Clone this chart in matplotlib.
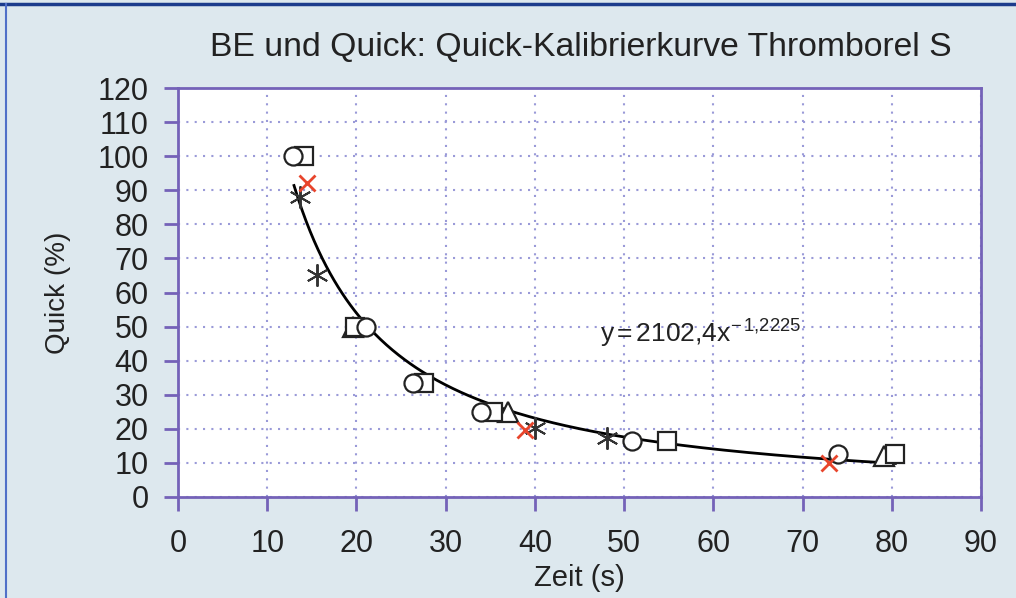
import matplotlib.pyplot as plt
from matplotlib.lines import Line2D
import numpy as np

plt.rcParams['font.family'] = ['Liberation Sans', 'DejaVu Sans']
plt.rcParams['mathtext.fontset'] = 'custom'
plt.rcParams['mathtext.rm'] = 'Liberation Sans'
plt.rcParams['mathtext.it'] = 'Liberation Sans'

# measured points per series (Zeit in s, Quick in %)
circle_x = [12.9, 21.1, 26.3, 34.0, 50.9, 74.0]
circle_y = [100, 50, 33.5, 25, 16.5, 12.5]
square_x = [14.1, 19.8, 27.6, 35.3, 54.8, 80.4]
square_y = [100, 50, 33.5, 25, 16.5, 12.5]
triangle_x = [19.6, 37.0, 79.1]
triangle_y = [50, 25, 12]
cross_x = [14.5, 38.9, 73.0]
cross_y = [92, 19.7, 10]
star_x = [13.7, 15.6, 40.0, 48.1]
star_y = [88, 65, 20.2, 17.3]

# power fit shown in the chart
fit_a = 2102.4
fit_b = -1.2225
fit_range = (13.0, 80.4)

bg = '#dde8ee'
frame = '#7462b8'
grid_col = '#9a9ad8'

fig = plt.figure(figsize=(10.16, 5.98), dpi=100, facecolor=bg)
ax = fig.add_axes([0.1752, 0.1689, 0.7904, 0.6839])
ax.set_facecolor('white')

# border of the picture
fig.add_artist(Line2D([0, 1], [0.994, 0.994], transform=fig.transFigure, color='#1c3c8c', lw=2.5))
fig.add_artist(Line2D([0.006, 0.006], [0, 0.994], transform=fig.transFigure, color='#5070c8', lw=1.5))

xf = np.linspace(fit_range[0], fit_range[1], 300)
ax.plot(xf, fit_a * xf ** fit_b, color='black', lw=2, zorder=3)

ms = dict(markerfacecolor='white', markeredgecolor='#222222', markeredgewidth=1.6, linestyle='none')
ax.plot(triangle_x, triangle_y, marker='^', markersize=14, zorder=4, **ms)
ax.plot(square_x, square_y, marker='s', markersize=12.5, zorder=5, **ms)
ax.plot(circle_x, circle_y, marker='o', markersize=13, zorder=6, **ms)
ax.plot(star_x, star_y, marker=(6, 2, 0), markersize=16, color='#333333', mew=1.4, linestyle='none', zorder=7)
ax.plot(cross_x, cross_y, marker='x', markersize=12, color='#e8452c', mew=2, linestyle='none', zorder=8)

ax.set_xlim(0, 90)
ax.set_ylim(0, 120)
ax.set_xticks(range(0, 91, 10))
ax.set_yticks(range(0, 121, 10))
ax.grid(True, color=grid_col, linestyle=(0, (1, 3)), linewidth=1.5)
ax.set_axisbelow(True)
for s in ax.spines.values():
    s.set_color(frame)
    s.set_linewidth(2)
ax.tick_params(direction='out', length=10, width=2, color=frame, labelsize=22, labelcolor='#222222')
ax.tick_params(axis='y', pad=11)
ax.tick_params(axis='x', pad=13)

ax.text(47.3, 48, r'y$\,$=$\,$2102,4x$^{-\,1{,}2225}$', fontsize=19, color='#222222', va='center')

ax.set_xlabel('Zeit (s)', fontsize=21, color='#222222', labelpad=4)
ax.set_ylabel('Quick (%)', fontsize=20, color='#222222', labelpad=19)
fig.text(0.572, 0.921, 'BE und Quick: Quick-Kalibrierkurve Thromborel S', fontsize=24.3,
         ha='center', va='center', color='#222222')

fig.savefig('out.png', dpi=100, facecolor=bg)
